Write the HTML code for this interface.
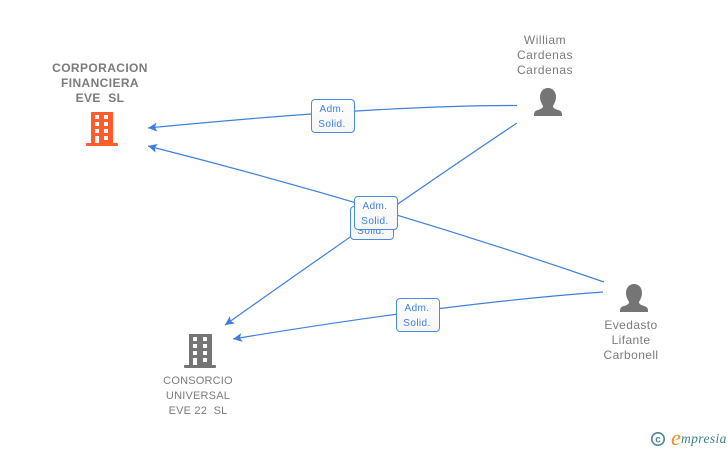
<!DOCTYPE html>
<html>
<head>
<meta charset="utf-8">
<style>
html,body{margin:0;padding:0;background:#fff}
#c{position:relative;width:728px;height:450px;overflow:hidden;background:#fff;font-family:"Liberation Sans",sans-serif}
svg{position:absolute;left:0;top:0}
.t{position:absolute;text-align:center;color:#7b7b7b;white-space:pre}
.b{position:absolute;width:42px;height:32px;border:1.5px solid #4a8ae0;border-radius:4px;background:linear-gradient(#fff,#f6f6f6);color:#3f7fdc;font-size:10px;line-height:15px;text-align:center;letter-spacing:.4px;box-sizing:content-box}
.b div{padding-top:2px;margin-left:-2px}
</style>
</head>
<body>
<div id="c">
<svg width="728" height="450" viewBox="0 0 728 450">
<defs>
<marker id="a" markerWidth="10" markerHeight="10" refX="9" refY="5" orient="auto" markerUnits="userSpaceOnUse">
<path d="M0,0.5 L9,5 L0,9.5 L2,5 Z" fill="#3f7fdc"/>
</marker>
</defs>
<g fill="none" stroke="#3f7fdc" stroke-width="1.2">
<path d="M517,105.5 Q385,105 148,128" marker-end="url(#a)"/>
<path d="M604,282 Q378,204 148,146" marker-end="url(#a)"/>
<path d="M517,123 Q400,201 225,325" marker-end="url(#a)"/>
<path d="M603,292 Q450,303 233,339" marker-end="url(#a)"/>
</g>
<!-- orange building -->
<g fill="#ff5c2b">
<path fill-rule="evenodd" d="M91,112H113V143H91Z M95,115v4h4v-4Z M104,115v4h4v-4Z M95,122v4h4v-4Z M104,122v4h4v-4Z M95,129v4h4v-4Z M104,129v4h4v-4Z M95,136v7h4v-7Z M104,136v4h4v-4Z"/>
<rect x="86" y="143" width="32" height="3" rx="1"/>
</g>
<!-- gray building -->
<g fill="#757575">
<path fill-rule="evenodd" d="M189,334H212V365H189Z M193,337v4h4v-4Z M203,337v4h4v-4Z M193,344v4h4v-4Z M203,344v4h4v-4Z M193,351v4h4v-4Z M203,351v4h4v-4Z M193,358v7h4v-7Z M203,358v4h4v-4Z"/>
<rect x="184" y="365" width="32" height="3" rx="1"/>
</g>
<!-- persons -->
<g fill="#757575">
<path d="M548,88c5,0 8,4 8,9c0,4 -2,7 -3,9c0,2 2,3 5,4c4,1 4,3 4,6H534c0,-3 0,-5 4,-6c3,-1 5,-2 5,-4c-1,-2 -3,-5 -3,-9c0,-5 3,-9 8,-9Z"/>
<path d="M634,284c5,0 8,4 8,9c0,4 -2,7 -3,9c0,2 2,3 5,4c4,1 4,3 4,6H620c0,-3 0,-5 4,-6c3,-1 5,-2 5,-4c-1,-2 -3,-5 -3,-9c0,-5 3,-9 8,-9Z"/>
</g>
<!-- copyright -->
<circle cx="658" cy="439" r="6.2" fill="none" stroke="#4e8796" stroke-width="1.6"/>
<text x="658" y="442.5" font-family="Liberation Sans,sans-serif" font-size="10" font-weight="bold" fill="#4e8796" text-anchor="middle">c</text>
<text x="671" y="445" font-family="Liberation Serif,serif" font-style="italic" font-size="22" fill="#f08a24">e</text>
<text x="681" y="443" font-family="Liberation Serif,serif" font-style="italic" font-size="13.5" fill="#3f7f8f" letter-spacing=".4">mpresia</text>
</svg>

<div class="t" style="left:30px;top:61px;width:140px;font-size:12px;line-height:15px;font-weight:bold;letter-spacing:.4px">CORPORACION
FINANCIERA
EVE  SL</div>
<div class="t" style="left:495px;top:33px;width:100px;font-size:12px;line-height:15px;letter-spacing:.5px">William
Cardenas
Cardenas</div>
<div class="t" style="left:581px;top:318px;width:100px;font-size:12px;line-height:15px;letter-spacing:.4px">Evedasto
Lifante
Carbonell</div>
<div class="t" style="left:148px;top:374px;width:100px;font-size:11px;line-height:15px;letter-spacing:.2px">CONSORCIO
UNIVERSAL
EVE 22  SL</div>

<div class="b" style="left:311px;top:99px"><div>Adm.<br>Solid.</div></div>
<div class="b" style="left:350px;top:206px"><div>Adm.<br>Solid.</div></div>
<div class="b" style="left:354px;top:196px"><div>Adm.<br>Solid.</div></div>
<div class="b" style="left:396px;top:298px"><div>Adm.<br>Solid.</div></div>
</div>
</body>
</html>
